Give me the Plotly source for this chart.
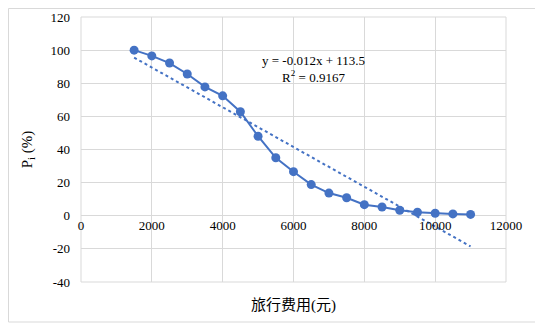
import plotly.graph_objects as go

# Data
cost = [1500, 2000, 2500, 3000, 3500, 4000, 4500, 5000, 5500, 6000,
        6500, 7000, 7500, 8000, 8500, 9000, 9500, 10000, 10500, 11000]
p_i = [100, 96.5, 92.2, 85.6, 77.8, 72.4, 62.8, 48.0, 35.0, 26.6,
       18.8, 13.7, 10.9, 6.7, 5.3, 3.3, 2.1, 1.5, 1.1, 0.8]
trend_slope = -0.012
trend_intercept = 113.5
trend_label = "y = -0.012x + 113.5<br>R<sup>2</sup> = 0.9167"
x_title = "旅行费用(元)"
y_title = "P<sub>i</sub> (%)"

x_ticks = [0, 2000, 4000, 6000, 8000, 10000, 12000]
y_ticks = [-40, -20, 0, 20, 40, 60, 80, 100, 120]

BLUE = "#4472C4"
GRID = "#D9D9D9"
SERIF = "Liberation Serif, serif"

# page body has an 8px default margin; work in window pixels, shift by OFF
OFF = 8
FW, FH = 543 - OFF, 327 - OFF
L, R, T, B = 81 - OFF, 506 - OFF, 17 - OFF, 282 - OFF
W, H = R - L, B - T


def px(xp):
    return (xp - OFF - L) / W


def py(yp):
    return 1 - (yp - OFF - T) / H


trend_x = [cost[0], cost[-1]]
trend_y = [trend_slope * v + trend_intercept for v in trend_x]

fig = go.Figure()
fig.add_trace(go.Scatter(
    x=cost, y=p_i, mode="lines+markers",
    line=dict(color=BLUE, width=2),
    marker=dict(color=BLUE, size=9),
    showlegend=False))
fig.add_trace(go.Scatter(
    x=trend_x, y=trend_y, mode="lines",
    line=dict(color=BLUE, width=2, dash="dot"),
    showlegend=False, hoverinfo="skip"))

fig.add_annotation(
    x=px(313), y=py(69), xref="paper", yref="paper", text=trend_label,
    showarrow=False, font=dict(family=SERIF, size=13, color="#000"),
    align="center", xanchor="center", yanchor="middle")
fig.add_annotation(
    x=px(293), y=py(305), xref="paper", yref="paper", text=x_title,
    showarrow=False, font=dict(family="Liberation Serif, Noto Sans CJK SC", size=15, color="#000"),
    xanchor="center", yanchor="middle")

fig.update_layout(
    width=FW, height=FH,
    margin=dict(l=L, r=FW - R, t=T, b=FH - B, autoexpand=False),
    paper_bgcolor="white", plot_bgcolor="white",
    font=dict(family=SERIF, size=13, color="#000"),
    xaxis=dict(
        range=[0, 12000], tickvals=x_ticks, ticktext=[str(v) for v in x_ticks],
        showgrid=True, gridcolor=GRID, gridwidth=1, zeroline=False,
        showline=False, ticks="", anchor="free", position=0.25,
        tickfont=dict(family=SERIF, size=13, color="#000"),
    ),
    yaxis=dict(
        range=[-40, 120], tickvals=y_ticks, ticktext=[str(v) for v in y_ticks],
        showgrid=True, gridcolor=GRID, gridwidth=1, zeroline=False,
        showline=False, ticks="", ticklabelstandoff=10,
        tickfont=dict(family=SERIF, size=13, color="#000"),
        title=dict(text=y_title, font=dict(family=SERIF, size=15),
                   standoff=14),
    ),
    shapes=[
        dict(type="rect", xref="paper", yref="paper", x0=0, x1=1, y0=0, y1=1,
             line=dict(color=GRID, width=1), layer="below"),
        dict(type="rect", xref="paper", yref="paper",
             x0=px(8.5), x1=px(538), y0=py(322), y1=py(8.5),
             line=dict(color=GRID, width=1), layer="below"),
    ],
)

fig.write_html("out.html")
